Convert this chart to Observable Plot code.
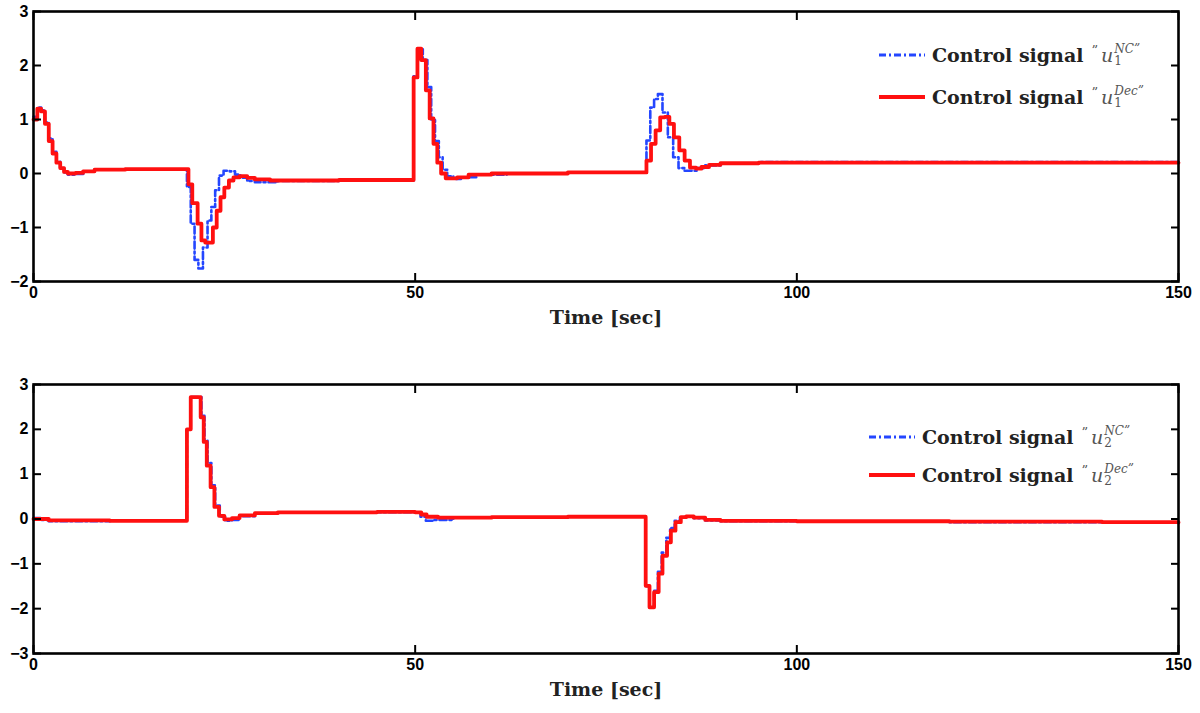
<!DOCTYPE html>
<html>
<head>
<meta charset="utf-8">
<script src="https://cdn.jsdelivr.net/npm/d3@7"></script>
<script src="https://cdn.jsdelivr.net/npm/@observablehq/plot@0.6"></script>
<style>
  html, body { margin: 0; padding: 0; background: #fff; }
  #wrap { position: relative; width: 1200px; height: 713px; overflow: hidden; }
  #wrap svg { display: block; }
  .leg { position: absolute; font-family: "DejaVu Serif", serif; font-weight: bold; font-size: 19px; color: #222; white-space: nowrap; display: flex; align-items: center; height: 28px; }
  .leg svg { margin-right: 7px; flex: none; }
  .math { font-weight: normal; color: #555; }
  .q { font-size: 13px; align-self: flex-start; margin: 2px 3px 0 8px; }
  .u { font-style: italic; }
  .ss { display: inline-flex; flex-direction: column; line-height: 12px; font-size: 12px; margin-left: 1px; }
  .ss .up { font-style: italic; }
  .ss .dn { font-style: normal; }
</style>
</head>
<body>
<div id="wrap"></div>
<script>
// ---- data ----
const xTicks = [0, 50, 100, 150];
const yTicksTop = [-2, -1, 0, 1, 2, 3];
const yTicksBottom = [-3, -2, -1, 0, 1, 2, 3];

// u1 NC (blue)
const u1NC_t = [0, 0.5, 1.0, 1.5, 2.0, 2.5, 3.0, 3.5, 4.0, 4.5, 5.5, 6.5, 8, 12,
  20.1, 20.6, 21.1, 21.6, 22.2, 22.8, 23.3, 23.8, 24.3, 24.9, 25.7, 26.4, 27.1, 28, 29, 32, 40,
  49.8, 50.3, 51.0, 51.6, 52.1, 52.6, 53.1, 53.6, 54.2, 55, 56, 58, 62, 70,
  80.3, 80.8, 81.3, 81.8, 82.4, 83.1, 83.8, 84.5, 85.3, 86.3, 87, 88, 90, 95, 150];
const u1NC_v = [1.05, 1.22, 1.17, 0.95, 0.65, 0.4, 0.22, 0.1, 0.02, -0.02, -0.01, 0.04, 0.07, 0.08,
  -0.25, -0.93, -1.6, -1.76, -1.37, -0.87, -0.62, -0.31, -0.04, 0.05, 0.04, -0.02, -0.08, -0.14, -0.16, -0.14, -0.13,
  1.8, 2.3, 2.1, 1.6, 1.0, 0.6, 0.3, 0.07, -0.05, -0.1, -0.07, -0.02, 0.0, 0.02,
  0.61, 1.22, 1.38, 1.47, 1.13, 0.67, 0.3, 0.1, 0.05, 0.05, 0.1, 0.15, 0.19, 0.21, 0.21];

// u1 Dec (red)
const u1Dec_t = [0, 0.5, 1.0, 1.5, 2.0, 2.5, 3.0, 3.5, 4.0, 4.5, 5.5, 6.5, 8, 12,
  20.3, 20.8, 21.5, 22.0, 22.5, 23.5, 24.0, 24.5, 25.0, 25.6, 26.2, 27, 28, 29, 31, 40,
  49.8, 50.3, 50.8, 51.4, 51.9, 52.4, 52.9, 53.4, 54, 55.5, 57, 60, 70,
  80.3, 80.9, 81.5, 82.1, 82.7, 83.3, 83.9, 84.6, 85.3, 86, 86.8, 87.5, 88.5, 90, 95, 150];
const u1Dec_v = [1.0, 1.2, 1.15, 0.92, 0.6, 0.37, 0.2, 0.1, 0.03, 0.0, 0.01, 0.04, 0.07, 0.08,
  -0.2, -0.55, -0.93, -1.24, -1.28, -1.0, -0.69, -0.44, -0.26, -0.13, -0.07, -0.05, -0.08, -0.11, -0.13, -0.12,
  1.78, 2.31, 2.1, 1.54, 1.02, 0.55, 0.2, 0.0, -0.09, -0.07, -0.02, 0.0, 0.02,
  0.24, 0.55, 0.8, 1.04, 1.05, 0.92, 0.67, 0.43, 0.24, 0.11, 0.09, 0.12, 0.16, 0.19, 0.2, 0.2];

// u2 NC (blue)
const u2NC_t = [0, 1, 2, 10, 20.1, 20.6, 22.0, 22.4, 22.8, 23.3, 23.8, 24.4, 25.1, 26, 27, 29, 32, 45, 50,
  50.7, 51.4, 52.5, 55, 70, 80.2, 80.7, 81.3, 81.8, 82.3, 82.9, 83.4, 84, 84.7, 85.5, 86.5, 88, 90, 100, 120, 140, 150];
const u2NC_v = [0.02, -0.02, -0.05, -0.04, 2.0, 2.72, 2.3, 1.75, 1.25, 0.75, 0.3, 0.05, -0.04, -0.02, 0.06, 0.12, 0.14, 0.15, 0.15,
  0.05, -0.04, -0.02, 0.03, 0.05, -1.5, -1.97, -1.6, -1.18, -0.75, -0.42, -0.2, -0.04, 0.04, 0.06, 0.02, -0.03, -0.05, -0.06, -0.07, -0.08, -0.09];

// u2 Dec (red)
const u2Dec_t = [0, 2, 10, 20.1, 20.6, 21.9, 22.3, 22.7, 23.2, 23.7, 24.3, 25, 26, 27, 29, 32, 45, 50,
  50.8, 51.5, 53, 60, 70, 80.2, 80.7, 81.3, 81.9, 82.4, 83.0, 83.5, 84.1, 84.8, 85.5, 86.5, 88, 90, 100, 120, 140, 150];
const u2Dec_v = [0.0, -0.03, -0.04, 2.0, 2.72, 2.27, 1.72, 1.19, 0.71, 0.27, 0.07, -0.01, 0.02, 0.08, 0.13, 0.15, 0.16, 0.15,
  0.1, 0.05, 0.03, 0.04, 0.05, -1.49, -1.97, -1.63, -1.22, -0.82, -0.52, -0.26, -0.07, 0.04, 0.06, 0.03, -0.02, -0.04, -0.05, -0.06, -0.07, -0.08];

const xLabel = "Time [sec]";
const legendTop = [{name: "Control signal", sup: "NC", sub: "1"}, {name: "Control signal", sup: "Dec", sub: "1"}];
const legendBottom = [{name: "Control signal", sup: "NC", sub: "2"}, {name: "Control signal", sup: "Dec", sub: "2"}];

// ---- helpers ----
const zip = (t, v) => t.map((ti, i) => ({t: ti, v: v[i]}));
const BLUE = "#2446ff", RED = "#ff1010";
const fmt = d3.format("d");

function panel({height, marginTop, marginBottom, yDomain, yTicks, blue, red}) {
  return Plot.plot({
    width: 1200, height, marginLeft: 33, marginRight: 22, marginTop, marginBottom,
    x: {domain: [0, 150]},
    y: {domain: yDomain},
    style: {fontFamily: "'Liberation Sans', Arial, sans-serif", fontSize: "16px", color: "#000", background: "#fff", overflow: "visible"},
    marks: [
      Plot.line(blue, {x: "t", y: "v", curve: "step-after", stroke: BLUE, strokeWidth: 2.6, strokeDasharray: "7,3,2,3"}),
      Plot.line(red, {x: "t", y: "v", curve: "step-after", stroke: RED, strokeWidth: 3.8}),
      Plot.frame({stroke: "#000", strokeWidth: 2.6}),
      Plot.axisX({ticks: xTicks, tickSize: -8, tickPadding: 13, tickFormat: fmt, label: null, strokeWidth: 2, fontWeight: "bold"}),
      Plot.axisX({anchor: "top", ticks: xTicks, tickSize: -8, tickFormat: () => "", label: null, strokeWidth: 2}),
      Plot.axisY({ticks: yTicks, tickSize: -8, tickPadding: 13, tickFormat: fmt, label: null, strokeWidth: 2, fontWeight: "bold"}),
      Plot.axisY({anchor: "right", ticks: yTicks, tickSize: -8, tickFormat: () => "", label: null, strokeWidth: 2}),
      Plot.text([xLabel], {frameAnchor: "bottom", dy: 42, text: d => d, fontFamily: "'DejaVu Serif', serif", fontWeight: "bold", fontSize: 19, fill: "#222"})
    ]
  });
}

const wrap = document.getElementById("wrap");
wrap.appendChild(panel({height: 350, marginTop: 11, marginBottom: 69, yDomain: [-2, 3], yTicks: yTicksTop,
  blue: zip(u1NC_t, u1NC_v), red: zip(u1Dec_t, u1Dec_v)}));
wrap.appendChild(panel({height: 363, marginTop: 34, marginBottom: 60, yDomain: [-3, 3], yTicks: yTicksBottom,
  blue: zip(u2NC_t, u2NC_v), red: zip(u2Dec_t, u2Dec_v)}));

function legend(items, left, tops) {
  items.forEach((it, i) => {
    const d = document.createElement("div");
    d.className = "leg";
    d.style.left = left + "px";
    d.style.top = (tops[i] - 14) + "px";
    const dash = i === 0 ? `stroke="${BLUE}" stroke-width="3" stroke-dasharray="7,3,2,3"` : `stroke="${RED}" stroke-width="4"`;
    d.innerHTML = `<svg width="46" height="10"><line x1="0" x2="46" y1="5" y2="5" ${dash}/></svg>` +
      `<span>${it.name}</span><span class="math q">”</span><span class="math u">u</span>` +
      `<span class="ss math"><span class="up">${it.sup}”</span><span class="dn">${it.sub}</span></span>`;
    wrap.appendChild(d);
  });
}
legend(legendTop, 879, [55, 97]);
legend(legendBottom, 869, [437, 475]);
</script>
</body>
</html>
